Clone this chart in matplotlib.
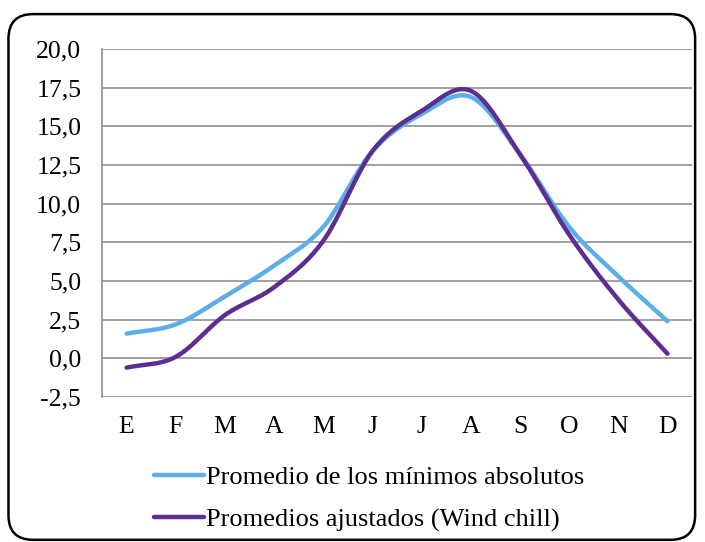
import numpy as np
import matplotlib.pyplot as plt
from matplotlib.patches import FancyBboxPatch
from matplotlib.ticker import FuncFormatter

months = ["E", "F", "M", "A", "M", "J", "J", "A", "S", "O", "N", "D"]
minimos = [1.6, 2.2, 4.0, 6.0, 8.5, 13.4, 15.8, 16.9, 13.2, 8.5, 5.3, 2.4]
wind_chill = [-0.6, 0.1, 2.8, 4.6, 7.6, 13.4, 16.0, 17.3, 13.2, 8.0, 3.8, 0.3]

plt.rcParams['font.family'] = ['Liberation Serif', 'DejaVu Serif']


def smooth(y, n=20):
    # catmull-rom style smoothing, like the spreadsheet's smoothed line
    y = np.asarray(y, dtype=float)
    p = np.concatenate([[2 * y[0] - y[1]], y, [2 * y[-1] - y[-2]]])
    xs, ys = [], []
    for i in range(len(y) - 1):
        p0, p1, p2, p3 = p[i], p[i + 1], p[i + 2], p[i + 3]
        t = np.linspace(0, 1, n, endpoint=False)
        v = 0.5 * ((2 * p1) + (-p0 + p2) * t + (2 * p0 - 5 * p1 + 4 * p2 - p3) * t ** 2
                   + (-p0 + 3 * p1 - 3 * p2 + p3) * t ** 3)
        xs.extend(i + t)
        ys.extend(v)
    xs.append(len(y) - 1)
    ys.append(y[-1])
    return np.array(xs), np.array(ys)


fig = plt.figure(figsize=(7.05, 5.42), dpi=100)
border = FancyBboxPatch((0.012, 0.004), 0.974, 0.97, boxstyle="round,pad=0,rounding_size=0.035",
                        transform=fig.transFigure, facecolor="none", edgecolor="black",
                        linewidth=1.8, mutation_aspect=705 / 542, zorder=0)
fig.patches.append(border)

ax = fig.add_axes([0.1447, 0.2675, 0.837, 0.642])
x = np.arange(len(months))

bx, by = smooth(minimos)
px, py = smooth(wind_chill)
l1, = ax.plot(bx, by, color="#5DADE8", lw=3.2, solid_capstyle="round",
              label="Promedio de los mínimos absolutos")
l2, = ax.plot(px, py, color="#5C2E91", lw=3.2, solid_capstyle="round",
              label="Promedios ajustados (Wind chill)")

ax.set_xlim(-0.5, len(months) - 0.5)
ax.set_ylim(-2.5, 20)
ax.set_yticks(np.arange(-2.5, 20.1, 2.5))
ax.yaxis.set_major_formatter(FuncFormatter(lambda v, p: f"{v:.1f}".replace(".", ",")))
ax.set_xticks(x)
ax.set_xticklabels(months)
ax.grid(axis="y", color="#999999", lw=1.3)
ax.set_axisbelow(True)
for s in ["top", "right", "bottom"]:
    ax.spines[s].set_visible(False)
ax.spines["left"].set_color("#999999")
ax.spines["left"].set_linewidth(1.3)
ax.tick_params(axis="both", length=0, labelsize=18.5)
ax.tick_params(axis="x", pad=14)
ax.tick_params(axis="y", pad=15)

fig.legend(handles=[l1, l2], loc="upper left", bbox_to_anchor=(0.218, 0.141), frameon=False,
           fontsize=19, handlelength=1.9, handletextpad=0.1, labelspacing=0.72,
           borderaxespad=0, borderpad=0)

fig.savefig("out.png", dpi=100)
